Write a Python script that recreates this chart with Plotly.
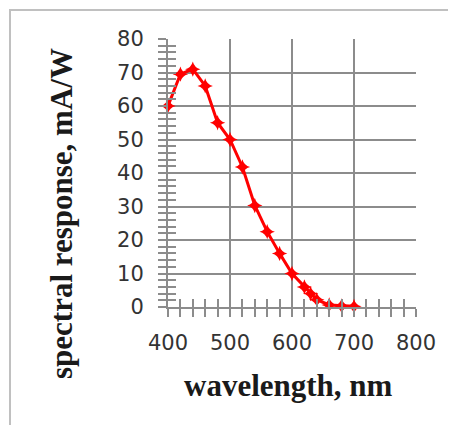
import plotly.graph_objects as go

wavelength = [400, 420, 440, 460, 480, 500, 520, 540, 560, 580, 600, 620, 630, 640, 660, 680, 700]
response = [60, 69.5, 71, 66, 55, 50, 41.8, 30.3, 22.5, 16, 10, 6, 4, 2.2, 0.6, 0.3, 0.2]

x_ticks = [400, 500, 600, 700, 800]
y_ticks = [0, 10, 20, 30, 40, 50, 60, 70, 80]

grid = "#8c8c8c"
tickfont = dict(family="DejaVu Sans", size=21, color="#333333")
titlefont = dict(family="Liberation Serif", size=31, color="#1a1a1a")

fig = go.Figure()
fig.add_trace(go.Scatter(
    x=wavelength, y=response, mode="lines+markers",
    line=dict(color="#ff0000", width=3),
    marker=dict(symbol="star-diamond", size=11, color="#ff0000"),
    showlegend=False, cliponaxis=False,
))
# invisible trace for secondary axes
fig.add_trace(go.Scatter(x=[400], y=[0], xaxis="x2", yaxis="y2", mode="markers",
                         marker=dict(opacity=0), showlegend=False, hoverinfo="skip"))

OFF = 8  # page body margin
W, H = 456 - OFF, 425 - OFF
L, T = 168 - OFF, 39 - OFF
pw, ph = 248, 268
R, B = W - L - pw, H - T - ph

def px_x(p):
    return (p - OFF - L) / pw

def px_y(p):
    return (T + ph - (p - OFF)) / ph

fig.update_layout(
    width=W, height=H,
    margin=dict(l=L, r=R, t=T, b=B),
    paper_bgcolor="white", plot_bgcolor="white",
    xaxis=dict(range=[400, 800], tickvals=x_ticks, ticktext=[str(v) for v in x_ticks],
               showgrid=True, gridcolor=grid, gridwidth=2,
               ticks="outside", ticklen=8, tickwidth=2, tickcolor=grid,
               minor=dict(dtick=20, tick0=400, ticks="outside", ticklen=8, tickwidth=2, tickcolor=grid, showgrid=False),
               showline=True, linecolor=grid, linewidth=2, mirror=False,
               tickfont=tickfont, ticklabelstandoff=8, zeroline=False),
    yaxis=dict(range=[0, 80], tickvals=y_ticks, ticktext=[str(v) for v in y_ticks],
               showgrid=True, gridcolor=grid, gridwidth=2,
               ticks="outside", ticklen=8, tickwidth=2, tickcolor=grid,
               minor=dict(dtick=2, tick0=0, ticks="outside", ticklen=8, tickwidth=2, tickcolor=grid, showgrid=False),
               showline=True, linecolor=grid, linewidth=2,
               tickfont=tickfont, ticklabelstandoff=10, zeroline=False),
    xaxis2=dict(range=[400, 800], overlaying="x", side="bottom", showgrid=False,
                showticklabels=False, ticks="", zeroline=False, showline=False,
                minor=dict(dtick=20, tick0=400, ticks="inside", ticklen=8, tickwidth=2, tickcolor=grid, showgrid=False)),
    yaxis2=dict(range=[0, 80], overlaying="y", side="left", showgrid=False,
                showticklabels=False, ticks="", zeroline=False, showline=False,
                minor=dict(dtick=2, tick0=0, ticks="inside", ticklen=8, tickwidth=2, tickcolor=grid, showgrid=False)),
    annotations=[
        dict(text="<b>wavelength, nm</b>", xref="paper", yref="paper",
             x=px_x(288), y=px_y(385), xanchor="center", yanchor="middle",
             showarrow=False, font=titlefont),
        dict(text="<b>spectral response, mA/W</b>", xref="paper", yref="paper",
             x=px_x(61), y=px_y(214), xanchor="center", yanchor="middle",
             textangle=-90, showarrow=False, font=titlefont),
    ],
    shapes=[
        dict(type="rect", xref="paper", yref="paper",
             x0=px_x(10), x1=px_x(480),
             y0=px_y(450), y1=px_y(10),
             line=dict(color="#c0c0c0", width=2), fillcolor="rgba(0,0,0,0)", layer="below"),
    ],
)

fig.write_html("out.html")
